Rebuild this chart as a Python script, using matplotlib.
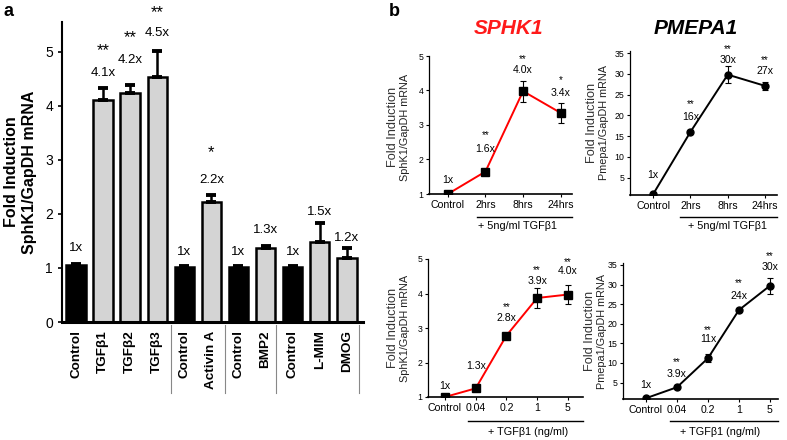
import matplotlib
matplotlib.use("Agg")
import matplotlib.pyplot as plt
from matplotlib.lines import Line2D
import matplotlib.transforms as mtransforms

plt.rcParams['font.family'] = ['Liberation Sans', 'DejaVu Sans']
NARROW = ['Liberation Sans Narrow', 'Liberation Sans', 'DejaVu Sans']

# ---------------- data: panel a ----------------
a_labels = ['Control', 'TGFβ1', 'TGFβ2', 'TGFβ3', 'Control', 'Activin A',
            'Control', 'BMP2', 'Control', 'L-MIM', 'DMOG']
a_values = [1.05, 4.11, 4.24, 4.54, 1.02, 2.22, 1.02, 1.37, 1.02, 1.48, 1.18]
a_errors = [0.03, 0.22, 0.15, 0.48, 0.02, 0.13, 0.02, 0.04, 0.02, 0.35, 0.18]
a_is_control = [True, False, False, False, True, False, True, False, True, False, False]
a_fold = ['1x', '4.1x', '4.2x', '4.5x', '1x', '2.2x', '1x', '1.3x', '1x', '1.5x', '1.2x']
a_stars = ['', '**', '**', '**', '', '*', '', '', '', '', '']
a_yticks = [0, 1, 2, 3, 4, 5]

# ---------------- data: panel b ----------------
time_labels = ['Control', '2hrs', '8hrs', '24hrs']
dose_labels = ['Control', '0.04', '0.2', '1', '5']

sphk_time = [1.0, 1.65, 3.98, 3.35]
sphk_time_err = [0.0, 0.04, 0.30, 0.30]
sphk_time_fold = ['1x', '1.6x', '4.0x', '3.4x']
sphk_time_stars = ['', '**', '**', '*']

pmepa_time = [1.0, 16.0, 29.8, 27.1]
pmepa_time_err = [0.0, 0.5, 2.0, 1.0]
pmepa_time_fold = ['1x', '16x', '30x', '27x']
pmepa_time_stars = ['', '**', '**', '**']

sphk_dose = [1.0, 1.25, 2.78, 3.87, 3.97]
sphk_dose_err = [0.0, 0.08, 0.05, 0.30, 0.28]
sphk_dose_fold = ['1x', '1.3x', '2.8x', '3.9x', '4.0x']
sphk_dose_stars = ['', '', '**', '**', '**']

pmepa_dose = [1.0, 3.8, 11.2, 23.5, 29.7]
pmepa_dose_err = [0.0, 0.5, 1.0, 0.5, 2.0]
pmepa_dose_fold = ['1x', '3.9x', '11x', '24x', '30x']
pmepa_dose_stars = ['', '**', '**', '**', '**']

# ---------------- layout (label positions) ----------------
a_fold_y = [1.37, 4.6, 4.85, 5.35, 1.3, 2.63, 1.3, 1.7, 1.3, 2.04, 1.55]
a_star_y = [0, 5.02, 5.27, 5.72, 0, 3.13, 0, 0, 0, 0, 0]
tl_fold_y = [1.4, 2.3, 4.6, 3.93]
tl_star_y = [0, 2.72, 4.92, 4.3]
tr_fold_y = [5.6, 19.7, 33.3, 30.6]
tr_star_y = [0, 22.6, 36.0, 33.2]
bl_fold_y = [1.33, 1.9, 3.3, 4.35, 4.65]
bl_star_y = [0, 0, 3.62, 4.67, 4.9]
br_fold_y = [4.3, 7.3, 16.0, 27.0, 34.4]
br_star_y = [0, 10.3, 18.5, 30.4, 37.3]

W, H = 787, 440
fig = plt.figure(figsize=(W / 100, H / 100), dpi=100)


def rect(left, right, top, bottom):
    return [left / W, 1 - bottom / H, (right - left) / W, (bottom - top) / H]


def fx(x):
    return x / W


def fy(y):
    return 1 - y / H


# ================= panel a =================
ax = fig.add_axes(rect(62, 363, 22, 322))
xs = list(range(len(a_labels)))
colors = ['black' if c else '#d4d4d4' for c in a_is_control]
ax.bar(xs, a_values, width=0.72, color=colors, edgecolor='black', linewidth=1.8, zorder=2)
ax.errorbar(xs, a_values, yerr=[[0] * len(a_errors), a_errors], fmt='none',
            ecolor='black', elinewidth=1.8, capsize=3.5, capthick=2.8, zorder=3)
ax.set_xlim(-0.52, 10.6)
ax.set_ylim(0, 5.55)
ax.set_yticks(a_yticks)
ax.tick_params(axis='y', labelsize=10, length=3, width=1.2, direction='out')
ax.set_xticks(xs)
ax.set_xticklabels(a_labels, rotation=90, fontsize=9.7, fontweight='bold')
ax.tick_params(axis='x', length=0, pad=6)
for s in ['top', 'right']:
    ax.spines[s].set_visible(False)
ax.spines['left'].set_linewidth(1.5)
ax.spines['bottom'].set_linewidth(2.2)
ax.set_ylabel('Fold Induction\nSphK1/GapDH mRNA', fontsize=11.5, fontweight='bold',
              labelpad=6, linespacing=1.2)
for i in xs:
    ax.text(i, a_fold_y[i], a_fold[i], ha='center', va='center', fontsize=9.5)
    if a_stars[i]:
        ax.text(i, a_star_y[i], a_stars[i], ha='center', va='center', fontsize=12)
trans = mtransforms.blended_transform_factory(ax.transData, ax.transAxes)
for xsep in [3.5, 5.5, 7.4, 10.45]:
    ax.plot([xsep, xsep], [-0.01, -0.237], transform=trans, color='#888888',
            lw=0.8, clip_on=False)

fig.text(fx(4), fy(12), 'a', fontsize=13, fontweight='bold', va='center')
fig.text(fx(389), fy(12), 'b', fontsize=13, fontweight='bold', va='center')


# ================= panel b =================
def line_panel(r, xl, yl, ticks, xlabels, vals, errs, fold, stars, fold_y, star_y,
               color, marker, ms):
    a = fig.add_axes(r)
    x = list(range(len(vals)))
    a.plot(x, vals, color=color, lw=1.4, zorder=2)
    a.errorbar(x, vals, yerr=errs, fmt='none', ecolor='black', elinewidth=0.8,
               capsize=2.5, capthick=0.8, zorder=3)
    a.plot(x, vals, linestyle='none', marker=marker, ms=ms, color='black', zorder=4)
    a.set_xlim(*xl)
    a.set_ylim(*yl)
    a.set_yticks(ticks)
    a.set_yticklabels([str(t) for t in ticks], fontsize=6.3, family=NARROW)
    a.set_xticks(x)
    a.set_xticklabels(xlabels, fontsize=7.6, family=NARROW)
    a.tick_params(axis='both', length=2.5, width=0.8, pad=1.5)
    for s in ['top', 'right']:
        a.spines[s].set_visible(False)
    a.spines['left'].set_linewidth(0.9)
    a.spines['bottom'].set_linewidth(1.2)
    for i in x:
        a.text(i, fold_y[i], fold[i], ha='center', va='center', fontsize=7.6, family=NARROW)
        if stars[i]:
            a.text(i, star_y[i], stars[i], ha='center', va='center', fontsize=7,
                   family=NARROW)
    return a


line_panel(rect(429, 572, 56, 194), (-0.5, 3.3), (1, 5), [1, 2, 3, 4, 5],
           time_labels, sphk_time, sphk_time_err, sphk_time_fold, sphk_time_stars,
           tl_fold_y, tl_star_y, 'red', 's', 5.5)
line_panel(rect(630, 777, 51, 195), (-0.62, 3.32), (0.8, 35.5),
           [5, 10, 15, 20, 25, 30, 35], time_labels, pmepa_time, pmepa_time_err,
           pmepa_time_fold, pmepa_time_stars, tr_fold_y, tr_star_y, 'black', 'o', 5)
line_panel(rect(428, 583, 259, 397), (-0.55, 4.49), (1, 5), [1, 2, 3, 4, 5],
           dose_labels, sphk_dose, sphk_dose_err, sphk_dose_fold, sphk_dose_stars,
           bl_fold_y, bl_star_y, 'red', 's', 5.5)
line_panel(rect(623, 778, 263, 399), (-0.74, 4.26), (0.8, 35.5),
           [5, 10, 15, 20, 25, 30, 35], dose_labels, pmepa_dose, pmepa_dose_err,
           pmepa_dose_fold, pmepa_dose_stars, br_fold_y, br_star_y, 'black', 'o', 5)

# titles
fig.text(fx(509), fy(28), 'SPHK1', color='#ff1a1a', fontsize=15, fontweight='bold',
         fontstyle='italic', ha='center', va='center')
fig.text(fx(696), fy(28), 'PMEPA1', color='black', fontsize=15, fontweight='bold',
         fontstyle='italic', ha='center', va='center')

# y labels for panel b
for (xf, xs2, yc, second) in [(393, 405, 127, 'SphK1/GapDH mRNA'),
                              (393, 405, 328, 'SphK1/GapDH mRNA'),
                              (592, 604, 123, 'Pmepa1/GapDH mRNA'),
                              (590, 602, 331, 'Pmepa1/GapDH mRNA')]:
    fig.text(fx(xf), fy(yc), 'Fold Induction', rotation=90, fontsize=9.2,
             color='#333333', ha='center', va='center')
    fig.text(fx(xs2), fy(yc), second, rotation=90, fontsize=7.8,
             color='#222222', ha='center', va='center')

# treatment brackets
for (x1, x2, yl, cx, ty, txt) in [(477, 572, 217, 517, 226, '+ 5ng/ml TGFβ1'),
                                  (680, 777, 217, 728, 226, '+ 5ng/ml TGFβ1'),
                                  (468, 583, 421, 528, 432, '+ TGFβ1 (ng/ml)'),
                                  (670, 778, 421, 720, 432, '+ TGFβ1 (ng/ml)')]:
    fig.add_artist(Line2D([fx(x1), fx(x2)], [fy(yl), fy(yl)], transform=fig.transFigure,
                          color='black', lw=1.0))
    fig.text(fx(cx), fy(ty), txt, fontsize=7.8, family=NARROW, ha='center', va='center')

fig.savefig('out.png', dpi=100)
